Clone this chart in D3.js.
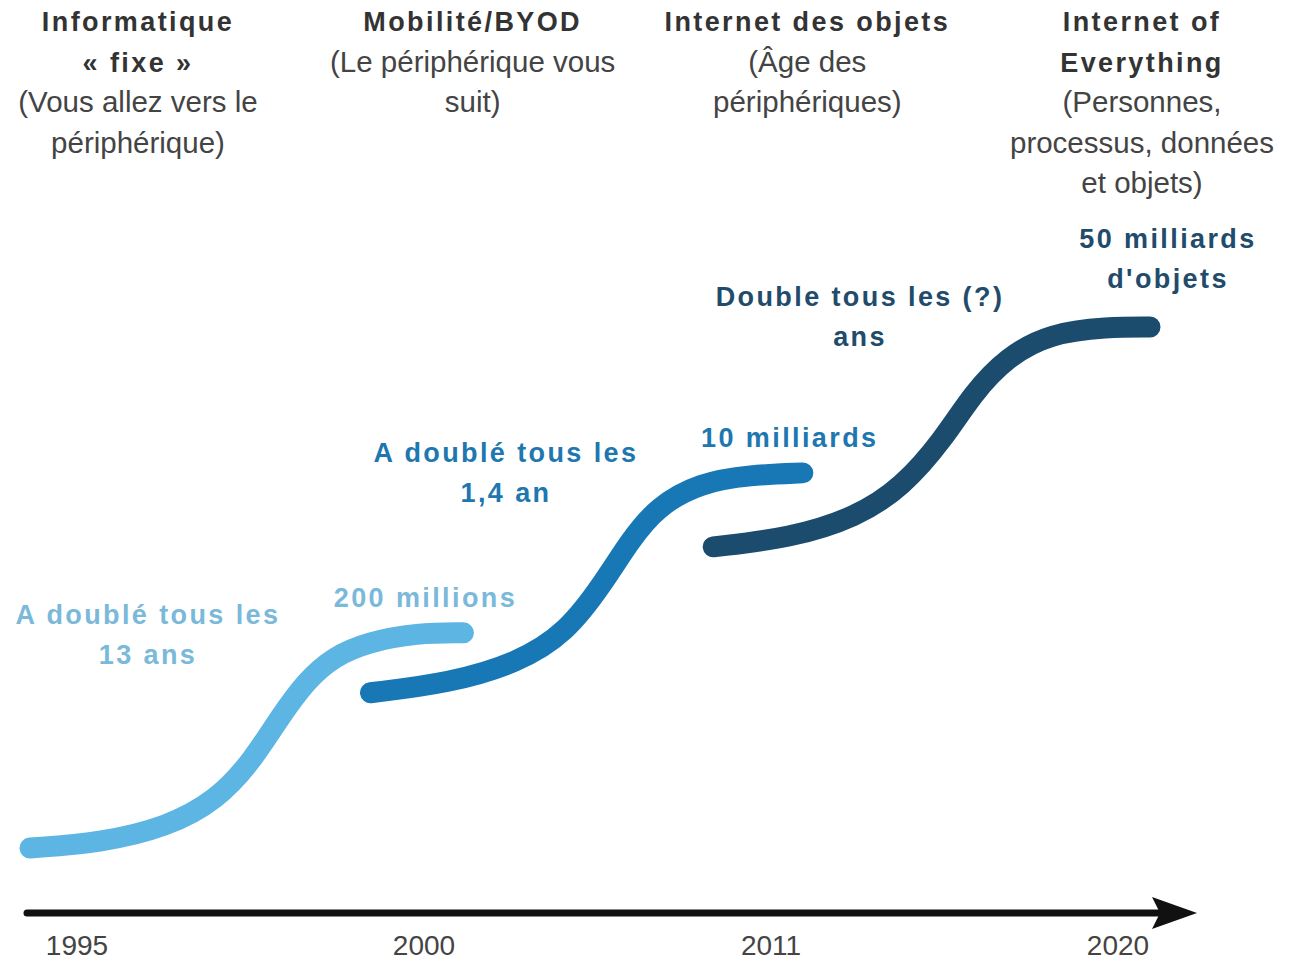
<!DOCTYPE html>
<html lang="fr">

<head>
  <meta charset="UTF-8">
  <title>Internet of Everything</title>
  <script src="https://d3js.org/d3.v7.min.js"></script>
  <style>
    body { margin: 0; background: #fff; }
  </style>
</head>

<body>
  <div id="container"></div>

  <script>
    // phases du haut (titre en gras, puis sous-titre)
    var phaseTitles = [
      ["Informatique", "« fixe »"],
      ["Mobilité/BYOD"],
      ["Internet des objets"],
      ["Internet of", "Everything"]
    ];
    var phaseSubtitles = [
      ["(Vous allez vers le", "périphérique)"],
      ["(Le périphérique vous", "suit)"],
      ["(Âge des", "périphériques)"],
      ["(Personnes,", "processus, données", "et objets)"]
    ];

    var years = ["1995", "2000", "2011", "2020"];

    // courbes en S (x : temps relatif 0-100, y : niveau relatif 0-100)
    var curveFixe = [
      [0, 0], [6.3, 1.0], [12.2, 4.0], [16.7, 9.2], [19.9, 16.9], [22.3, 25.1],
      [24.7, 32.2], [27.1, 36.7], [30.1, 39.5], [34.6, 41.3], [38.7, 41.3]
    ];
    var curveMobile = [
      [30.4, 29.8], [37.5, 31.7], [43.5, 35.5], [47.9, 41.3], [51.2, 50.9],
      [53.6, 59.1], [56.0, 65.5], [59.8, 70.1], [64.3, 71.6], [69.0, 72.0]
    ];
    var curveIoE = [
      [61.0, 57.8], [67.9, 59.5], [73.8, 63.5], [77.9, 69.3], [81.5, 78.3],
      [84.2, 87.3], [87.2, 94.2], [91.1, 98.8], [96.2, 100], [100, 100]
    ];

    var growthLabels = [
      ["A doublé tous les", "13 ans"],
      ["A doublé tous les", "1,4 an"],
      ["Double tous les (?)", "ans"]
    ];
    var volumeLabels = [
      ["200 millions"],
      ["10 milliards"],
      ["50 milliards", "d'objets"]
    ];

    var colors = ["#5db5e3", "#1878b6", "#1b4c6e"];
    var textColors = ["#7ab9d9", "#2077b0", "#214b6b"];

    var width = 1289,
      height = 961;

    var svg = d3.select("#container")
      .append("svg")
      .attr("width", width)
      .attr("height", height)
      .style("font-family", "'Liberation Sans', Arial, sans-serif");

    var x = d3.scaleLinear().domain([0, 100]).range([30, 1150]);
    var y = d3.scaleLinear().domain([0, 100]).range([848, 327]);

    var colX = d3.scalePoint().domain(d3.range(phaseTitles.length)).range([138, 1142]);
    var yearX = d3.scalePoint().domain(years).range([77, 1118]);

    // en-têtes
    var lineH = 40.5;
    phaseTitles.forEach(function (t, i) {
      var lines = t.map(function (s) { return { s: s, bold: true }; })
        .concat(phaseSubtitles[i].map(function (s) { return { s: s, bold: false }; }));
      svg.append("g").selectAll("text")
        .data(lines)
        .enter()
        .append("text")
        .attr("x", colX(i))
        .attr("y", function (d, j) { return 31 + j * lineH; })
        .attr("text-anchor", "middle")
        .attr("font-size", function (d) { return d.bold ? 27 : 29.5; })
        .attr("font-weight", function (d) { return d.bold ? "bold" : "normal"; })
        .attr("fill", function (d) { return d.bold ? "#333" : "#444"; })
        .attr("letter-spacing", function (d) { return d.bold ? 2.4 : 0; })
        .text(function (d) { return d.s; });
    });

    // courbes
    var line = d3.line()
      .x(function (d) { return x(d[0]); })
      .y(function (d) { return y(d[1]); })
      .curve(d3.curveBasis);

    var curves = [curveFixe, curveMobile, curveIoE];
    svg.append("g").selectAll("path")
      .data(curves)
      .enter()
      .append("path")
      .attr("d", line)
      .attr("fill", "none")
      .attr("stroke", function (d, i) { return colors[i]; })
      .attr("stroke-width", 21)
      .attr("stroke-linecap", "round");

    // étiquettes des courbes
    function drawLabel(lines, cx, by, col) {
      svg.append("g").selectAll("text")
        .data(lines)
        .enter()
        .append("text")
        .attr("x", cx)
        .attr("y", function (d, j) { return by + j * 39.5; })
        .attr("text-anchor", "middle")
        .attr("font-size", 27)
        .attr("font-weight", "bold")
        .attr("letter-spacing", 2.4)
        .attr("fill", col)
        .text(function (d) { return d; });
    }

    // taux de croissance : au-dessus du début de chaque courbe
    var growthPos = [[148, 624], [506, 462], [860, 306]];
    growthLabels.forEach(function (l, i) {
      drawLabel(l, growthPos[i][0], growthPos[i][1], textColors[i]);
    });

    // volumes : au-dessus de la fin de chaque courbe
    var volOffset = [[-38, -26], [-13, -26], [18, -79]];
    volumeLabels.forEach(function (l, i) {
      var end = curves[i][curves[i].length - 1];
      drawLabel(l, x(end[0]) + volOffset[i][0], y(end[1]) + volOffset[i][1], textColors[i]);
    });

    // axe du temps
    var axisY = 913;
    svg.append("defs").append("marker")
      .attr("id", "head")
      .attr("viewBox", "0 0 45 32")
      .attr("refX", 8)
      .attr("refY", 16)
      .attr("markerWidth", 45)
      .attr("markerHeight", 32)
      .attr("markerUnits", "userSpaceOnUse")
      .attr("orient", "auto")
      .append("path")
      .attr("d", "M0,0 L45,16 L0,32 L8,16 Z")
      .attr("fill", "#111");

    svg.append("line")
      .attr("x1", 27)
      .attr("x2", 1160)
      .attr("y1", axisY)
      .attr("y2", axisY)
      .attr("stroke", "#111")
      .attr("stroke-width", 7)
      .attr("stroke-linecap", "round")
      .attr("marker-end", "url(#head)");

    svg.append("g").selectAll("text")
      .data(years)
      .enter()
      .append("text")
      .attr("x", function (d) { return yearX(d); })
      .attr("y", 955)
      .attr("text-anchor", "middle")
      .attr("font-size", 28)
      .attr("fill", "#444")
      .text(function (d) { return d; });
  </script>
</body>

</html>
